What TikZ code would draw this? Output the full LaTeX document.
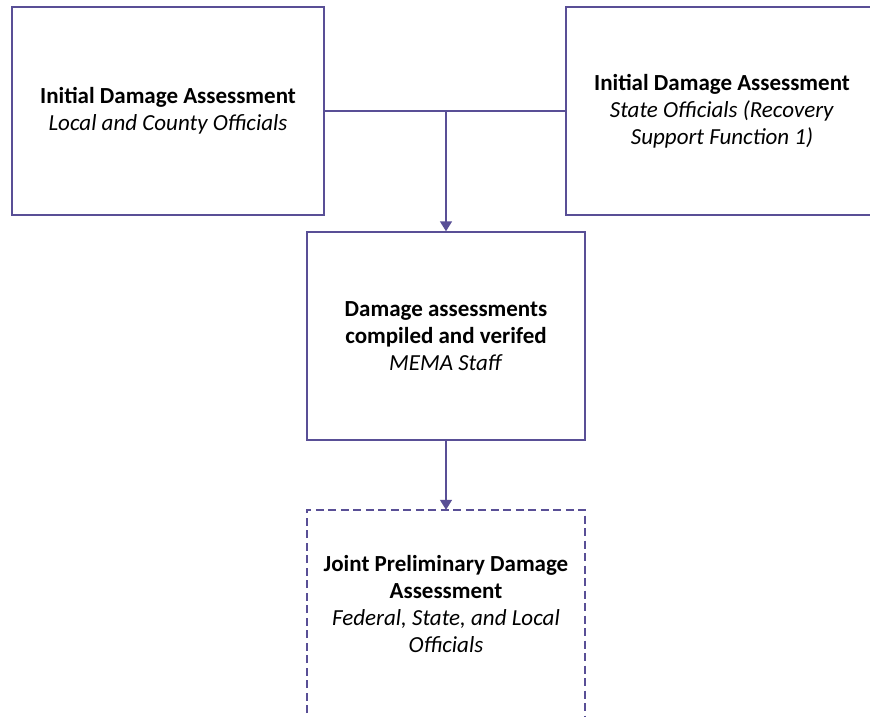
\documentclass[tikz,border=0pt]{standalone}
\usepackage{fontspec}
\setmainfont{Carlito}
\usetikzlibrary{arrows.meta}
\definecolor{linec}{RGB}{89,79,150}
\tikzset{
  stagebox/.style={draw=linec, line width=1.4pt, align=center, inner sep=0pt,
    font=\fontsize{23}{27}\selectfont},
  textbox/.style={draw=none, align=center, inner sep=0pt,
    font=\fontsize{23}{27}\selectfont},
  dashbox/.style={draw=linec, line width=1.5pt, dash pattern=on 8pt off 4.5pt},
  link/.style={draw=linec, line width=1.4pt},
  flow/.style={link, -{Triangle[width=12pt,length=10pt]}}
}
\begin{document}
\begin{tikzpicture}[x=1pt,y=-1pt]
  \clip (0,0) rectangle (870,717);
  \fill[white] (0,0) rectangle (870,717);

  % first-level assessments
  \node[stagebox, minimum width=312pt, minimum height=208pt] (L) at (168,111)
    {\textbf{Initial Damage Assessment}\\\textit{Local and County Officials}};
  \node[stagebox, minimum width=312pt, minimum height=208pt] (R) at (722,111)
    {\textbf{Initial Damage Assessment}\\\textit{State Officials (Recovery}\\\textit{Support Function 1)}};

  % compilation step
  \node[stagebox, minimum width=278pt, minimum height=208pt] (M) at (446,336)
    {\textbf{Damage assessments}\\\textbf{compiled and verifed}\\\textit{MEMA Staff}};

  % joint assessment (dashed frame, open at the bottom)
  \node[textbox, minimum width=278pt, minimum height=188pt] (B) at (446,604)
    {\textbf{Joint Preliminary Damage}\\\textbf{Assessment}\\\textit{Federal, State, and Local}\\\textit{Officials}};
  \draw[dashbox] ([yshift=-40pt]B.south west) |- (B.north east) -- ([yshift=-40pt]B.south east);

  % connectors
  \coordinate (J) at (M.north |- L.east);
  \draw[link] (L.east) -- (R.west);
  \draw[flow] (J) -- (M.north);
  \draw[flow] (M.south) -- (B.north);
\end{tikzpicture}
\end{document}
